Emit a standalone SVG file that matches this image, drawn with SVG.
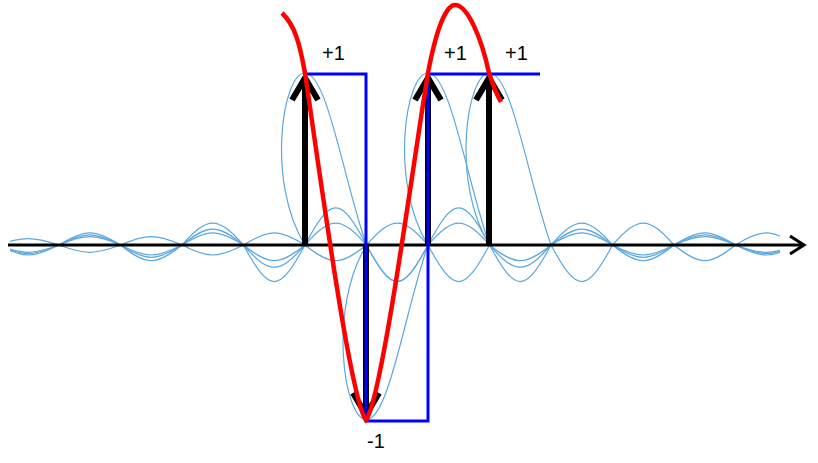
<svg xmlns="http://www.w3.org/2000/svg" width="818" height="463" viewBox="0 0 818 463">
<style>
.s{fill:none;stroke:#5ba7e0;stroke-width:1.2}
.k{fill:none;stroke:#000;stroke-linecap:butt}
.t{font-family:"Liberation Sans",Arial,sans-serif;font-size:20px;fill:#000}
</style>
<defs>
<path id="sinc" d="M-492,0 c26.1,-8.6 35.4,-8.6 61.5,0 c26.1,9.7 35.4,9.7 61.5,0 c26.1,-11.2 35.4,-11.2 61.5,0 c26.1,13.3 35.4,13.3 61.5,0 c26.1,-16.2 35.4,-16.2 61.5,0 c26.1,20.9 35.4,20.9 61.5,0 c26.1,-29.2 35.4,-29.2 61.5,0 c26.1,48.7 35.4,48.7 61.5,0 C-39.1,-62.8 -22.4,-172 0,-172 C22.4,-172 39.1,-62.8 61.5,0 c26.1,48.7 35.4,48.7 61.5,0 c26.1,-29.2 35.4,-29.2 61.5,0 c26.1,20.9 35.4,20.9 61.5,0 c26.1,-16.2 35.4,-16.2 61.5,0 c26.1,13.3 35.4,13.3 61.5,0 c26.1,-11.2 35.4,-11.2 61.5,0 c26.1,9.7 35.4,9.7 61.5,0 c26.1,-8.6 35.4,-8.6 61.5,0"/>
<clipPath id="cl"><rect x="10" y="0" width="770" height="463"/></clipPath>
</defs>
<rect width="818" height="463" fill="#fff"/>
<g id="sincs" clip-path="url(#cl)" class="s">
<use href="#sinc" transform="translate(305,245)"/>
<use href="#sinc" transform="translate(366.5,245) scale(1,-1.015)"/>
<use href="#sinc" transform="translate(428,245)"/>
<use href="#sinc" transform="translate(489.5,245)"/>
</g>
<g id="axis" class="k">
<line x1="8" y1="245" x2="803" y2="245" stroke-width="3"/>
<polyline points="790,236 804,245 790,254" stroke-width="3"/>
</g>
<g id="impulses" class="k" stroke-width="6">
<line x1="305" y1="245" x2="305" y2="78"/>
<polyline points="292,100 305,78 318,100"/>
<line x1="366" y1="245" x2="366" y2="415"/>
<polyline points="353,393 366,415 379,393"/>
<line x1="428" y1="245" x2="428" y2="78"/>
<polyline points="415,100 428,78 441,100"/>
<line x1="489" y1="245" x2="489" y2="78"/>
<polyline points="476,100 489,78 502,100"/>
</g>
<g id="hold">
<path d="M305,74 H366 V421 H428 V74 H540" fill="none" stroke="#0000ff" stroke-width="3"/>
</g>
<g id="interp">
<path d="M282,13 C295,25 300,45 305,73 C318,160 350,400 366,420 C382,400 415,150 428,73 C438,20 448,5 455,5 C468,5 482,40 489,73 C493,85 497,95 501,102" fill="none" stroke="#ff0000" stroke-width="4.5"/>
</g>
<g id="labels">
<text class="t" x="322" y="60">+1</text>
<text class="t" x="444" y="60">+1</text>
<text class="t" x="505" y="60">+1</text>
<text class="t" x="367" y="448">-1</text>
</g>
</svg>
